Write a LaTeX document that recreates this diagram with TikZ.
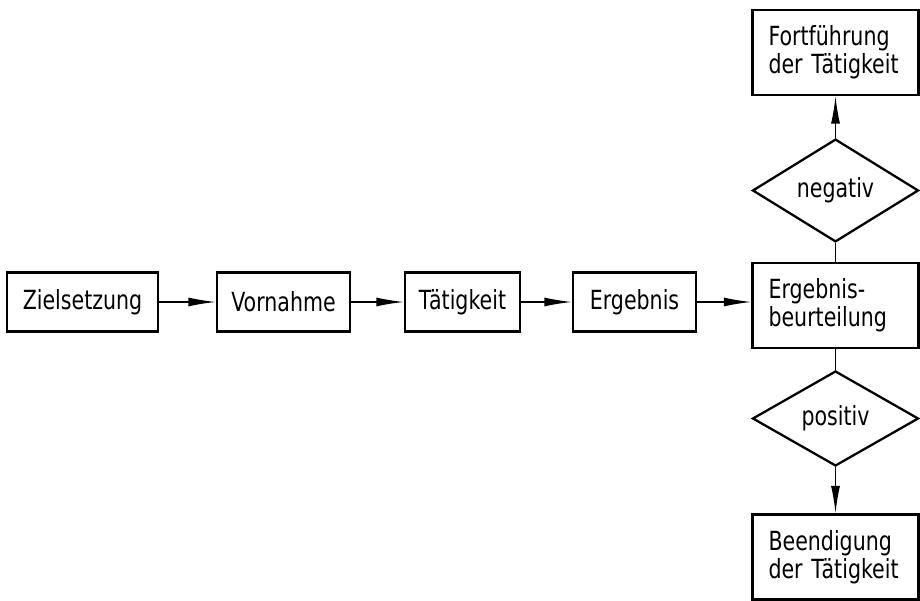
\documentclass[tikz,border=0pt]{standalone}
\usepackage{fontspec}
\newfontfamily\dinfont[FakeStretch=0.78]{DejaVu Sans}
\usetikzlibrary{shapes.geometric,arrows.meta}
\begin{document}
\begin{tikzpicture}
    \tikzstyle{bx} = [rectangle,draw=black,line width=1.3pt,minimum height=1.18cm,font=\dinfont\fontsize{15}{16}\selectfont] %box
    \tikzstyle{tb} = [bx,minimum height=1.7cm,text width=2.68cm,inner xsep=0.32cm,align=left] %two-line box
    \tikzstyle{dm} = [diamond,draw=black,line width=1.3pt,inner sep=0pt,minimum width=3.32cm,minimum height=1.9cm,font=\dinfont\fontsize{15}{16}\selectfont] %decision
    \tikzstyle{ar} = [-{Latex[length=0.55cm,width=0.18cm]},line width=0.8pt] %arrow
    \tikzstyle{ue} = [-,line width=0.8pt] %plain line
    \useasboundingbox[fill=white](0,0)rectangle(18.4,12.02);
    \node[bx,minimum width=3.02cm](zs)at(1.65,5.98){Zielsetzung};
    \node[bx,minimum width=2.66cm](vn)at(5.67,5.98){Vornahme};
    \node[bx,minimum width=2.30cm](tk)at(9.25,5.98){Tätigkeit};
    \node[bx,minimum width=2.46cm](eg)at(12.69,5.98){Ergebnis};
    \node[tb](eb)at(16.71,5.91){Ergebnis-\\beurteilung};
    \node[dm](neg)at(16.71,8.21){negativ};
    \node[tb](ft)at(16.71,10.97){Fortführung\\der Tätigkeit};
    \node[dm](pos)at(16.71,3.65){positiv};
    \node[tb](be)at(16.71,0.88){Beendigung\\der Tätigkeit};
    \draw[ar](zs)--(vn);
    \draw[ar](vn)--(tk);
    \draw[ar](tk)--(eg);
    \draw[ar](eg)--(eg-|eb.west);
    \draw[ue](eb)--(neg);
    \draw[ar](neg)--(ft);
    \draw[ue](eb)--(pos);
    \draw[ar](pos)--(be);
  \end{tikzpicture}
\end{document}
